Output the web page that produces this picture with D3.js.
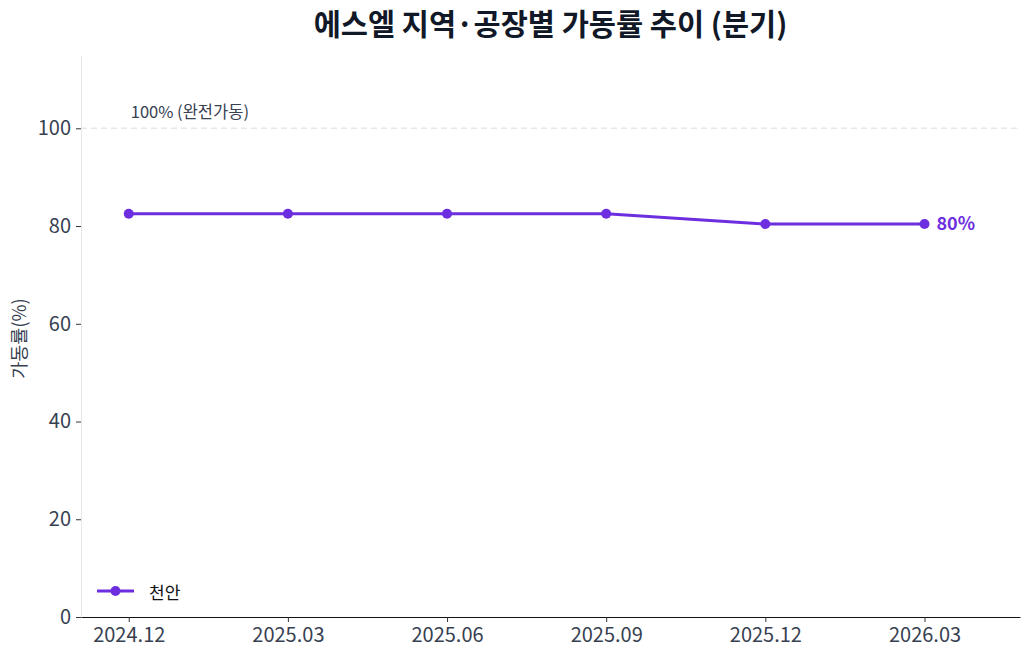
<!DOCTYPE html>
<html>
<head>
<meta charset="utf-8">
<title>에스엘 가동률</title>
<script src="https://d3js.org/d3.v7.min.js"></script>
<style>
  body { margin: 0; background: #fff; }
  text { font-family: "Noto Sans CJK KR", "Noto Sans", sans-serif; }
</style>
</head>
<body>
<div id="chart"></div>
<script>
// data
const quarters = ['2024.12', '2025.03', '2025.06', '2025.09', '2025.12', '2026.03'];
const cheonan = [82.5, 82.5, 82.5, 82.5, 80.4, 80.4];
const yTicks = [0, 20, 40, 60, 80, 100];
const seriesName = '천안';
const lineColor = '#6d2ee0';

const W = 1030, H = 660;
const margin = { top: 55, right: 10, bottom: 43, left: 81 };
const width = W - margin.left - margin.right;
const height = H - margin.top - margin.bottom;

const svg = d3.select('#chart').append('svg')
  .attr('width', W).attr('height', H);

// title
svg.append('text')
  .attr('x', margin.left + width / 2).attr('y', 35)
  .attr('text-anchor', 'middle')
  .style('font-size', '29.5px').style('font-weight', 700)
  .style('fill', '#111827')
  .text('에스엘 지역·공장별 가동률 추이 (분기)');

const g = svg.append('g').attr('transform', `translate(${margin.left},${margin.top})`);

const x = d3.scaleLinear().domain([-0.3, quarters.length - 0.4]).range([0, width]);
const y = d3.scaleLinear().domain([0, 115]).range([height, 0]);

// 100% reference line
g.append('line')
  .attr('x1', 0).attr('x2', width)
  .attr('y1', y(100)).attr('y2', y(100))
  .attr('stroke', '#e5e7eb').attr('stroke-width', 1.5)
  .attr('stroke-dasharray', '6,4');
g.append('text')
  .attr('x', x(0) + 2).attr('y', y(100) - 10)
  .style('font-size', '16.5px').style('fill', '#374151')
  .text('100% (완전가동)');

// y axis
const yAxis = g.append('g')
  .call(d3.axisLeft(y).tickValues(yTicks).tickSize(5).tickSizeOuter(0).tickPadding(5));
yAxis.select('.domain').attr('stroke', '#e5e7eb');
yAxis.selectAll('.tick line').attr('stroke', '#333');
yAxis.selectAll('.tick text')
  .style('font-size', '20px').style('fill', '#374151')
  .style('font-family', '"Noto Sans CJK KR", sans-serif');

// x axis
const xAxis = g.append('g').attr('transform', `translate(0,${height})`)
  .call(d3.axisBottom(x).tickValues(d3.range(quarters.length))
    .tickFormat(i => quarters[i]).tickSize(5).tickSizeOuter(0).tickPadding(6));
xAxis.select('.domain').attr('stroke', '#111').attr('stroke-width', 1.2);
xAxis.selectAll('.tick line').attr('stroke', '#333');
xAxis.selectAll('.tick text')
  .style('font-size', '20px').style('fill', '#374151')
  .style('font-family', '"Noto Sans CJK KR", sans-serif');

// y label
svg.append('text')
  .attr('transform', `translate(26,${margin.top + y(57)}) rotate(-90)`)
  .attr('text-anchor', 'middle')
  .style('font-size', '18.5px').style('fill', '#374151')
  .text('가동률(%)');

// line
const line = d3.line().x((d, i) => x(i)).y(d => y(d));
g.append('path')
  .datum(cheonan)
  .attr('fill', 'none')
  .attr('stroke', lineColor)
  .attr('stroke-width', 3)
  .attr('d', line);

g.selectAll('.dot')
  .data(cheonan)
  .enter().append('circle')
  .attr('class', 'dot')
  .attr('cx', (d, i) => x(i))
  .attr('cy', d => y(d))
  .attr('r', 5)
  .attr('fill', lineColor);

// end label
const last = cheonan.length - 1;
g.append('text')
  .attr('x', x(last) + 12).attr('y', y(cheonan[last]) - 2)
  .attr('dominant-baseline', 'central')
  .style('font-size', '18px').style('font-weight', 700)
  .style('fill', lineColor)
  .text(d3.format('.0f')(cheonan[last]) + '%');

// legend
const lg = g.append('g').attr('transform', `translate(16,${height - 26})`);
lg.append('line').attr('x1', 0).attr('x2', 37).attr('y1', 0).attr('y2', 0)
  .attr('stroke', lineColor).attr('stroke-width', 3);
lg.append('circle').attr('cx', 18.5).attr('cy', 0).attr('r', 5).attr('fill', lineColor);
lg.append('text').attr('x', 52).attr('y', 0)
  .attr('dominant-baseline', 'central')
  .style('font-size', '17px').style('fill', '#111')
  .text(seriesName);
</script>
</body>
</html>
